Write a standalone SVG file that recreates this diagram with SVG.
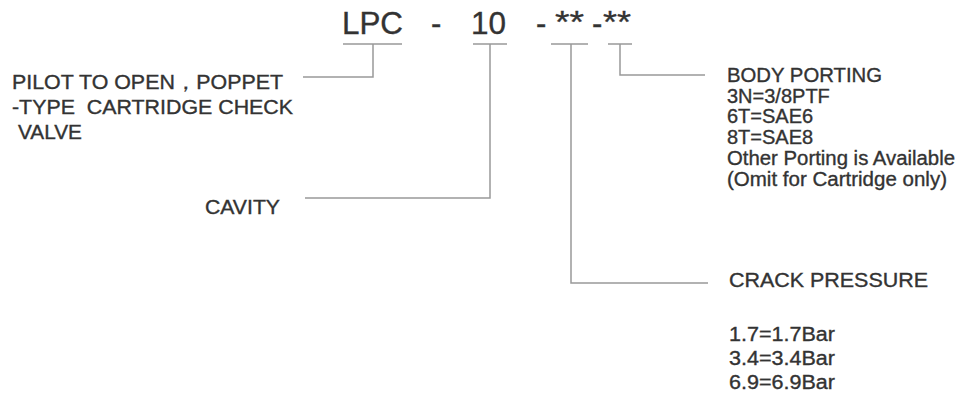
<svg xmlns="http://www.w3.org/2000/svg" width="960" height="396" viewBox="0 0 960 396">
<style>
text{font-family:"Liberation Sans",Arial,sans-serif;fill:#333;stroke:#333;stroke-width:0.35}
.t{font-size:31px}
.l{font-size:20px}
.c{fill:none;stroke:#999;stroke-width:1.5}
</style>
<rect width="960" height="396" fill="#fff"/>
<g id="code">
<text class="t" x="342" y="34" textLength="61" lengthAdjust="spacingAndGlyphs">LPC</text>
<text class="t" x="431" y="34">-</text>
<text class="t" x="471" y="34" textLength="35" lengthAdjust="spacingAndGlyphs">10</text>
<text class="t" x="536" y="34">-</text>
<text class="t" x="555" y="33" font-size="34" textLength="29" lengthAdjust="spacingAndGlyphs">**</text>
<text class="t" x="592" y="34">-</text>
<text class="t" x="603" y="33" font-size="34" textLength="28" lengthAdjust="spacingAndGlyphs">**</text>
</g>
<g id="connectors">
<path class="c" d="M343 44H402M373 44V77H303"/>
<path class="c" d="M473 44H507M490 44V198H305"/>
<path class="c" d="M551 44H588M571 44V283H708"/>
<path class="c" d="M608 44H632M620 44V75H705"/>
</g>
<g id="node-type">
<text class="l" x="12" y="89" textLength="271" lengthAdjust="spacingAndGlyphs">PILOT TO OPEN，POPPET</text>
<text class="l" x="12" y="114" textLength="281" lengthAdjust="spacingAndGlyphs" xml:space="preserve">-TYPE  CARTRIDGE CHECK</text>
<text class="l" x="18" y="139" textLength="64" lengthAdjust="spacingAndGlyphs">VALVE</text>
</g>
<g id="node-cavity">
<text class="l" x="205" y="214" textLength="75" lengthAdjust="spacingAndGlyphs">CAVITY</text>
</g>
<g id="node-porting">
<text class="l" x="727" y="82" textLength="155" lengthAdjust="spacingAndGlyphs">BODY PORTING</text>
<text class="l" x="727" y="103">3N=3/8PTF</text>
<text class="l" x="727" y="123">6T=SAE6</text>
<text class="l" x="727" y="144">8T=SAE8</text>
<text class="l" x="727" y="165" textLength="228" lengthAdjust="spacingAndGlyphs">Other Porting is Available</text>
<text class="l" x="727" y="186" textLength="220" lengthAdjust="spacingAndGlyphs">(Omit for Cartridge only)</text>
</g>
<g id="node-crack">
<text class="l" x="729" y="287" textLength="199" lengthAdjust="spacingAndGlyphs">CRACK PRESSURE</text>
<text class="l" x="729" y="341" textLength="106" lengthAdjust="spacingAndGlyphs">1.7=1.7Bar</text>
<text class="l" x="729" y="365" textLength="106" lengthAdjust="spacingAndGlyphs">3.4=3.4Bar</text>
<text class="l" x="729" y="389" textLength="106" lengthAdjust="spacingAndGlyphs">6.9=6.9Bar</text>
</g>
</svg>
